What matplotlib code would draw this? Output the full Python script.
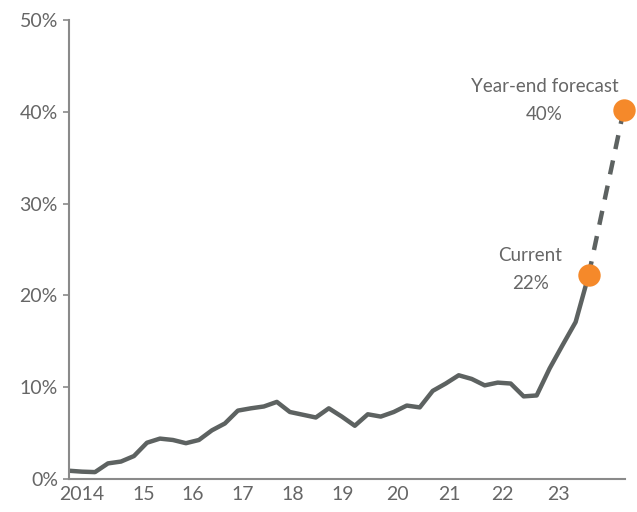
import matplotlib.pyplot as plt

# quarterly share (%), 2014 Q1 onwards
share = [0.9, 0.8, 0.75, 1.7, 1.9, 2.5, 3.95, 4.4, 4.25, 3.9,
         4.25, 5.3, 6.05, 7.45, 7.7, 7.9, 8.4, 7.3, 7.0, 6.7,
         7.7, 6.8, 5.8, 7.05, 6.8, 7.3, 8.0, 7.8, 9.6, 10.4,
         11.3, 10.9, 10.2, 10.5, 10.4, 9.0, 9.1, 12.05, 14.6, 17.1,
         22.2]
forecast_x = 42.7
forecast_val = 40.2
year_labels = ["2014", "15", "16", "17", "18", "19", "20", "21", "22", "23"]
year_pos = [0.98, 5.72, 9.56, 13.41, 17.25, 21.1, 25.27, 29.3, 33.4, 37.64]

TEXT = "#666666"
LINE = "#5d6261"
ORANGE = "#f5892a"
SPINE = "#8a8a8a"

plt.rcParams["font.family"] = ["Lato", "DejaVu Sans"]

fig = plt.figure(figsize=(6.37, 5.12), dpi=100)
ax = fig.add_axes([69 / 637, 1 - 479 / 512, (625 - 69) / 637, (479 - 20) / 512])

x = list(range(len(share)))
ax.plot(x, share, color=LINE, lw=3.2, solid_capstyle="butt", zorder=2)
ax.plot([x[-1], forecast_x], [share[-1], forecast_val], color=LINE, lw=3.2,
        dashes=(3.2, 2.6), zorder=2, clip_on=False)
ax.scatter([x[-1], forecast_x], [share[-1], forecast_val], s=260, color=ORANGE,
           zorder=3, linewidths=0, clip_on=False)

ax.text(35.5, 22.8, "Current\n22%", ha="center", va="center", fontsize=13.5,
        color=TEXT, linespacing=1.8)
ax.text(36.6, 41.2, "Year-end forecast\n40%", ha="center", va="center",
        fontsize=13.5, color=TEXT, linespacing=1.8)

ax.set_xlim(0, 42.8)
ax.set_ylim(0, 50)
ax.set_yticks([0, 10, 20, 30, 40, 50])
ax.set_yticklabels([f"{v}%" for v in [0, 10, 20, 30, 40, 50]])
ax.set_xticks(year_pos)
ax.set_xticklabels(year_labels)
ax.tick_params(axis="y", length=4, width=1.2, color=SPINE, labelsize=14,
               labelcolor=TEXT, pad=4)
ax.tick_params(axis="x", length=0, labelsize=14, labelcolor=TEXT, pad=5)

for s in ["top", "right"]:
    ax.spines[s].set_visible(False)
for s in ["left", "bottom"]:
    ax.spines[s].set_color(SPINE)
    ax.spines[s].set_linewidth(1.5)

fig.savefig("out.png", dpi=100)
